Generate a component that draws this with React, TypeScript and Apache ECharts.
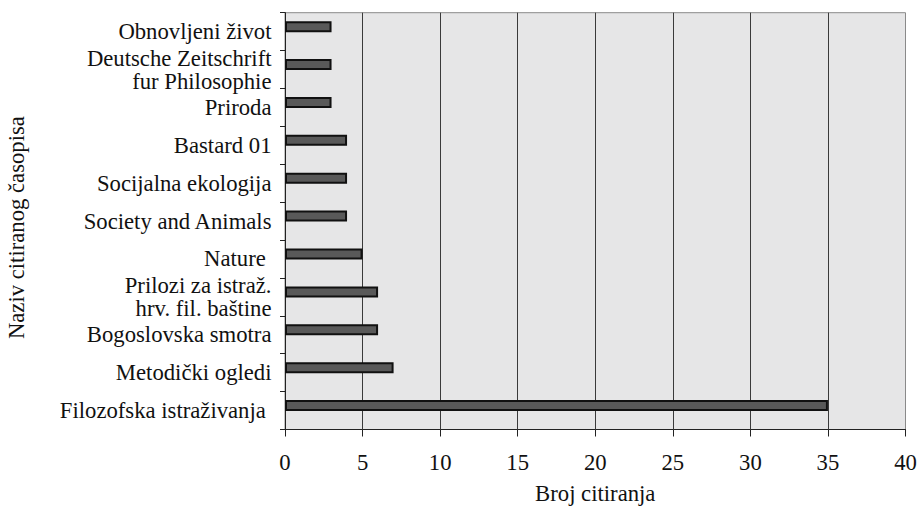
import React, { useEffect, useRef } from "react";
import * as echarts from "echarts";

const categories = [
  "Filozofska istraživanja ",
  "Metodički ogledi",
  "Bogoslovska smotra",
  "Prilozi za istraž.\nhrv. fil. baštine",
  "Nature ",
  "Society and Animals",
  "Socijalna ekologija",
  "Bastard 01",
  "Priroda",
  "Deutsche Zeitschrift\nfur Philosophie",
  "Obnovljeni život",
];
const citations = [35, 7, 6, 6, 5, 4, 4, 4, 3, 3, 3];
const xTicks = [0, 5, 10, 15, 20, 25, 30, 35, 40];
const spacer: number[] = [];

const FONT = "'Liberation Serif', 'Times New Roman', serif";
const FS = 22.7;

export default function App() {
  const ref = useRef<HTMLDivElement>(null);
  useEffect(() => {
    if (!ref.current) return;
    const chart = echarts.init(ref.current, undefined, { renderer: "svg" });
    chart.setOption({
      animation: false,
      backgroundColor: "#ffffff",
      textStyle: { fontFamily: FONT },
      grid: {
        left: 285,
        right: 12.5,
        top: 12.7,
        bottom: 77.5,
        show: true,
        backgroundColor: "#e6e6e7",
        borderColor: "#8a8a8a",
        borderWidth: 1,
        outerBoundsMode: "none",
        containLabel: false,
      },
      xAxis: {
        type: "value",
        min: xTicks[0],
        max: xTicks[xTicks.length - 1],
        interval: 5,
        name: "Broj citiranja",
        nameLocation: "middle",
        nameGap: 52,
        nameMoveOverlap: false,
        nameTextStyle: { fontFamily: FONT, fontSize: FS, color: "#111" },
        axisLine: { show: true, lineStyle: { color: "#222", width: 1 } },
        axisTick: { show: true, inside: false, length: 7, lineStyle: { color: "#222" } },
        axisLabel: { fontFamily: FONT, fontSize: FS, color: "#111", margin: 21 },
        splitLine: { show: false },
      },
      yAxis: {
        type: "category",
        data: categories,
        boundaryGap: true,
        name: "Naziv citiranog časopisa",
        nameLocation: "middle",
        nameGap: 257,
        nameRotate: 90,
        nameMoveOverlap: false,
        nameTextStyle: { fontFamily: FONT, fontSize: FS, color: "#111", padding: [0, 13, 0, 0] },
        axisLine: { show: true, lineStyle: { color: "#222", width: 1 } },
        axisTick: { show: true, inside: false, length: 5, alignWithLabel: false, lineStyle: { color: "#222" } },
        axisLabel: {
          interval: 0,
          hideOverlap: false,
          fontFamily: FONT,
          fontSize: FS,
          color: "#111",
          margin: 13.5,
          lineHeight: 23,
          align: "right",
          padding: [0, 0, 9, 0],
        },
        splitLine: { show: false },
      },
      series: [
        {
          type: "bar",
          data: citations,
          barWidth: 11,
          barGap: "0%",
          z: 3,
          itemStyle: { color: "#595959", borderColor: "#111", borderWidth: 2 },
          markLine: {
            silent: true,
            symbol: "none",
            label: { show: false },
            z: 1,
            lineStyle: { color: "#3a3a3a", width: 1, type: "solid" },
            data: xTicks
              .filter((v) => v > xTicks[0] && v < xTicks[xTicks.length - 1])
              .map((v) => ({ xAxis: v })),
          },
        },
        {
          type: "bar",
          data: spacer,
          barWidth: 10,
          barGap: "0%",
          itemStyle: { color: "rgba(0,0,0,0)" },
        },
      ],
    });
    return () => chart.dispose();
  }, []);
  return (
    <div
      ref={ref}
      style={{ position: "fixed", left: 0, top: 0, width: 918, height: 507 }}
    />
  );
}
